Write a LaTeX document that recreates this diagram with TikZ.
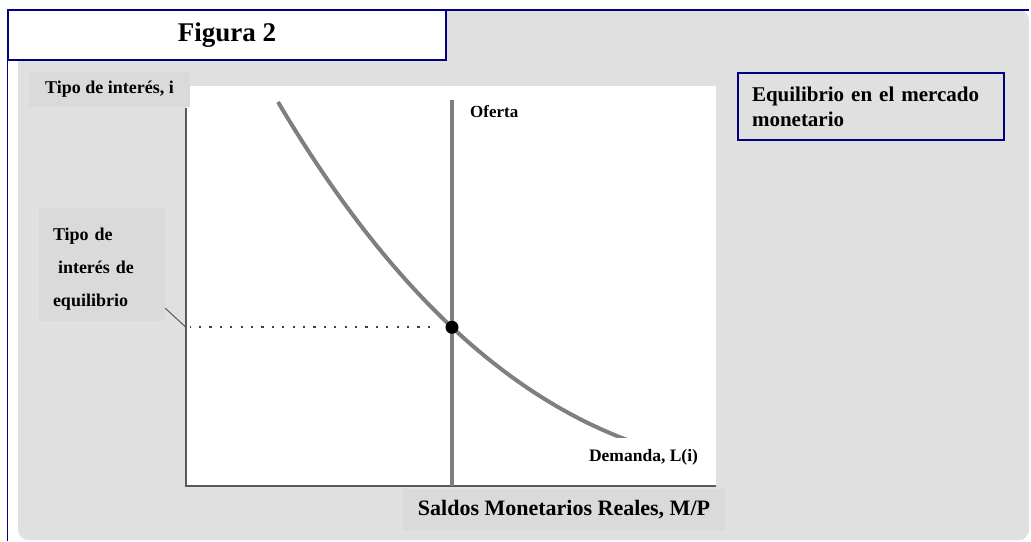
\documentclass[tikz,border=0pt]{standalone}
\usepackage{fontspec}
\setmainfont{Liberation Serif}
\usetikzlibrary{intersections}
\definecolor{navy}{HTML}{000080}
\definecolor{panelgray}{HTML}{E0E0E0}
\definecolor{boxgray}{HTML}{DADADA}
\definecolor{curvegray}{HTML}{7F7F7F}
\definecolor{axisgray}{HTML}{5A5A5A}
\newcommand{\fsz}[2]{\fontsize{#1}{#2}\selectfont\bfseries}

\begin{document}
\begin{tikzpicture}[x=1pt,y=-1pt,
  every node/.style={inner sep=0pt},
  graybox/.style={fill=boxgray},
  navybox/.style={draw=navy, line width=1.5pt},
  curve/.style={curvegray, line width=4pt},
  axis/.style={axisgray, line width=1.8pt}]
\useasboundingbox (0,0) rectangle (1031,541);
\fill[panelgray, rounded corners=10pt] (18,10) rectangle (1029,540);
\draw[navy, line width=1.5pt] (7.5,541) -- (7.5,10) -- (1029,10);
\node[navybox, fill=white, minimum width=438pt, minimum height=50pt, font=\fsz{27}{32}] (title) at (227,35) {Figura 2};
\fill[white] (186,86) rectangle (716,486);
\coordinate (ytop) at (186,108);
\coordinate (origin) at (186,486);
\coordinate (xend) at (716,486);
\coordinate (stop) at (452,100);
\coordinate (sbot) at (452,486);
\draw[axis] (ytop) -- (origin) -- (xend);
\draw[curve, line width=3.5pt, name path=supply] (stop) -- (sbot);
\draw[curve, name path=demand] (278,102) .. controls (384,281) and (500,393) .. (630,441);
\path[name intersections={of=supply and demand, by=eq}];
\draw[black!75, line width=2.2pt, dash pattern=on 2.2pt off 8.2pt, shorten <=22pt, shorten >=4pt] (eq) -- (eq -| origin);
\fill (eq) circle (6.5pt);
\node[graybox, minimum width=161pt, minimum height=35pt, font=\fsz{18}{22}] (ylabel) at (109.5,89.5) {Tipo de interés, i};
\node[anchor=base west, font=\fsz{17}{20}] (slabel) at (470,117) {Oferta};
\node[graybox, minimum height=113pt, inner xsep=14pt, text width=98pt, align=left, font=\fsz{18}{33}] (eqbox) at (102,264.5) {\rule{0pt}{21pt}Tipo de\\\hspace*{5pt}interés de\\equilibrio};
\draw[axisgray, line width=1pt] ([yshift=13pt]eqbox.south east) -- (eq -| origin);
\node[fill=white, minimum width=145pt, minimum height=39pt, font=\fsz{17.5}{21}] (dlabel) at (643.5,457.5) {Demanda, L(i)};
\node[graybox, minimum width=322pt, minimum height=41pt, font=\fsz{22}{26}] (xlabel) at (564,509.5) {Saldos Monetarios Reales, M/P};
\node[navybox, fill=panelgray, minimum height=67pt, inner xsep=14pt, text width=238pt, align=left, font=\fsz{21}{25}] (caption) at (871,106.5) {Equilibrio en el mercado\\monetario};
\end{tikzpicture}
\end{document}
